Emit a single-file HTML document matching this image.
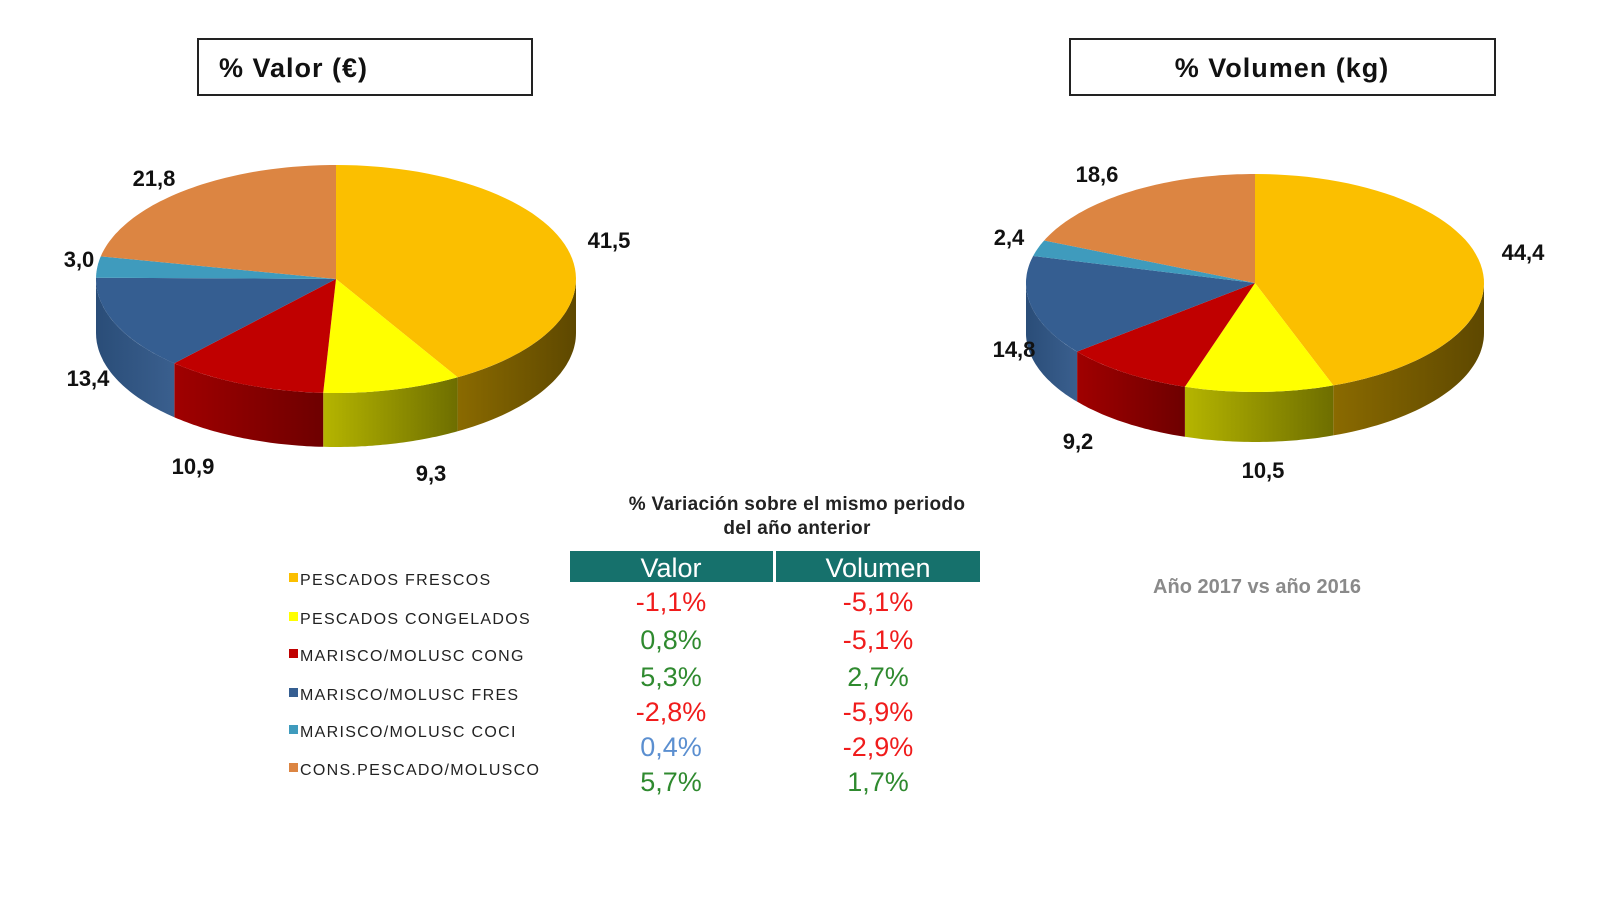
<!DOCTYPE html>
<html><head><meta charset="utf-8"><style>
body{margin:0;background:#fff;width:1600px;height:900px;overflow:hidden;font-family:"Liberation Sans",sans-serif}
svg{position:absolute;left:0;top:0}
</style></head><body>
<svg id="s" width="1600" height="900" viewBox="0 0 1600 900" xmlns="http://www.w3.org/2000/svg">
<defs>
<linearGradient id="gO" x1="0" x2="1"><stop offset="0" stop-color="#8a6a00"/><stop offset="1" stop-color="#5e4800"/></linearGradient>
<linearGradient id="gY" x1="0" x2="1"><stop offset="0" stop-color="#b5b500"/><stop offset="1" stop-color="#6e6e00"/></linearGradient>
<linearGradient id="gR" x1="0" x2="1"><stop offset="0" stop-color="#a00000"/><stop offset="1" stop-color="#6e0000"/></linearGradient>
<linearGradient id="gB" x1="0" x2="1"><stop offset="0" stop-color="#2a4d78"/><stop offset="1" stop-color="#3a5f8e"/></linearGradient>
<linearGradient id="gT" x1="0" x2="1"><stop offset="0" stop-color="#2f7d99"/><stop offset="1" stop-color="#2f7d99"/></linearGradient>
<linearGradient id="gN" x1="0" x2="1"><stop offset="0" stop-color="#a8602a"/><stop offset="1" stop-color="#a8602a"/></linearGradient>
</defs>
<rect x="198" y="39" width="334" height="56" fill="#fff" stroke="#222" stroke-width="2"/>
<text x="219" y="77" font-size="27" font-weight="bold" fill="#111" letter-spacing="1">% Valor (€)</text>
<rect x="1070" y="39" width="425" height="56" fill="#fff" stroke="#222" stroke-width="2"/>
<text x="1282" y="77" font-size="27" font-weight="bold" fill="#111" text-anchor="middle" letter-spacing="1">% Volumen (kg)</text>
<g id="p1"></g><g id="p2"></g>
<g font-size="22" font-weight="bold" fill="#111" text-anchor="middle">
<text x="154" y="186">21,8</text><text x="609" y="248">41,5</text><text x="79" y="267">3,0</text>
<text x="88" y="386">13,4</text><text x="193" y="474">10,9</text><text x="431" y="481">9,3</text>
<text x="1097" y="182">18,6</text><text x="1523" y="260">44,4</text><text x="1009" y="245">2,4</text>
<text x="1014" y="357">14,8</text><text x="1078" y="449">9,2</text><text x="1263" y="478">10,5</text>
</g>
<g font-size="19" font-weight="bold" fill="#222" text-anchor="middle" letter-spacing="0.3">
<text x="797" y="510">% Variación sobre el mismo periodo</text>
<text x="797" y="534">del año anterior</text>
</g>
<rect x="570" y="551" width="203" height="31" fill="#16716c"/>
<rect x="776" y="551" width="204" height="31" fill="#16716c"/>
<g font-size="27" fill="#fff" text-anchor="middle"><text x="671" y="577">Valor</text><text x="878" y="577">Volumen</text></g>
<g font-size="27" text-anchor="middle">
<text x="671" y="611" fill="#f01c1c">-1,1%</text><text x="878" y="611" fill="#f01c1c">-5,1%</text>
<text x="671" y="649" fill="#2f8a2f">0,8%</text><text x="878" y="649" fill="#f01c1c">-5,1%</text>
<text x="671" y="686" fill="#2f8a2f">5,3%</text><text x="878" y="686" fill="#2f8a2f">2,7%</text>
<text x="671" y="721" fill="#f01c1c">-2,8%</text><text x="878" y="721" fill="#f01c1c">-5,9%</text>
<text x="671" y="756" fill="#5b8fd0">0,4%</text><text x="878" y="756" fill="#f01c1c">-2,9%</text>
<text x="671" y="791" fill="#2f8a2f">5,7%</text><text x="878" y="791" fill="#2f8a2f">1,7%</text>
</g>
<g font-size="16" fill="#222" letter-spacing="1.3">
<rect x="289" y="573" width="9" height="9" fill="#fbbf00"/><text x="300" y="585">PESCADOS FRESCOS</text>
<rect x="289" y="612" width="9" height="9" fill="#ffff00"/><text x="300" y="624">PESCADOS CONGELADOS</text>
<rect x="289" y="649" width="9" height="9" fill="#c00000"/><text x="300" y="661">MARISCO/MOLUSC CONG</text>
<rect x="289" y="688" width="9" height="9" fill="#355e91"/><text x="300" y="700">MARISCO/MOLUSC FRES</text>
<rect x="289" y="725" width="9" height="9" fill="#3f9bbd"/><text x="300" y="737">MARISCO/MOLUSC COCI</text>
<rect x="289" y="763" width="9" height="9" fill="#dc8542"/><text x="300" y="775">CONS.PESCADO/MOLUSCO</text>
</g>
<text x="1257" y="593" font-size="20" font-weight="bold" fill="#8a8a8a" text-anchor="middle">Año 2017 vs año 2016</text>
</svg>
<script>
var cols=["#fbbf00","#ffff00","#c00000","#355e91","#3f9bbd","#dc8542"];
var walls=["url(#gO)","url(#gY)","url(#gR)","url(#gB)","url(#gT)","url(#gN)"];
function pie(id,cx,cy,rx,ry,d,vals){
 var g=document.getElementById(id);
 function P(a,dy){return [cx+rx*Math.sin(a),cy-ry*Math.cos(a)+(dy||0)];}
 var tot=vals.reduce(function(a,b){return a+b},0),a=0,segs=[];
 vals.forEach(function(v){var b=a+v/tot*2*Math.PI;segs.push([a,b]);a=b;});
 var out="";
 segs.forEach(function(s,i){
  var a1=Math.max(s[0],Math.PI/2),a2=Math.min(s[1],1.5*Math.PI);
  if(a2>a1){
   var p="",n=40;
   for(var k=0;k<=n;k++){var q=P(a1+(a2-a1)*k/n);p+=(k?"L":"M")+q[0].toFixed(1)+","+q[1].toFixed(1);}
   for(var k=n;k>=0;k--){var q=P(a1+(a2-a1)*k/n,d);p+="L"+q[0].toFixed(1)+","+q[1].toFixed(1);}
   out+='<path d="'+p+'Z" fill="'+walls[i]+'"/>';
  }
 });
 segs.forEach(function(s,i){
  var p="M"+cx+","+cy,n=60;
  for(var k=0;k<=n;k++){var q=P(s[0]+(s[1]-s[0])*k/n);p+="L"+q[0].toFixed(1)+","+q[1].toFixed(1);}
  out+='<path d="'+p+'Z" fill="'+cols[i]+'"/>';
 });
 g.innerHTML=out;
}
pie("p1",336,279,240,114,54,[41.5,9.3,10.9,13.4,3.0,21.8]);
pie("p2",1255,283,229,109,50,[44.4,10.5,9.2,14.8,2.4,18.6]);
</script>
</body></html>
